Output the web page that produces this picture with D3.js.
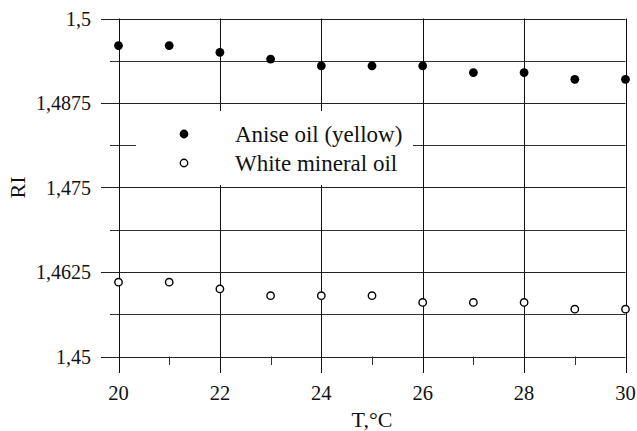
<html>
  <head>
    <meta charset="utf-8" />
    <script src="https://cdnjs.cloudflare.com/ajax/libs/d3/7.6.1/d3.min.js"></script>
    <style>
      body { margin: 0; background: #fff; }
    </style>
  </head>
  <body>
    <svg width="637" height="431"></svg>
  </body>
  <script>
    const temps = [20, 21, 22, 23, 24, 25, 26, 27, 28, 29, 30];
    const aniseOil = [1.496, 1.496, 1.495, 1.494, 1.493, 1.493, 1.493, 1.492, 1.492, 1.491, 1.491];
    const mineralOil = [1.461, 1.461, 1.460, 1.459, 1.459, 1.459, 1.458, 1.458, 1.458, 1.457, 1.457];
    const xTicks = [20, 22, 24, 26, 28, 30];
    const xMinor = [21, 23, 25, 27, 29];
    const yTicks = [1.45, 1.4625, 1.475, 1.4875, 1.5];
    const yTickLabels = ["1,45", "1,4625", "1,475", "1,4875", "1,5"];
    const yMinor = [1.45625, 1.46875, 1.48125, 1.49375];

    const svg = d3.select("svg")
      .attr("font-family", "'Liberation Serif', 'Times New Roman', serif");
    const xScale = d3.scaleLinear().domain([20, 30]).range([118.5, 625.5]);
    const yScale = d3.scaleLinear().domain([1.45, 1.5]).range([356.5, 18.5]);

    function gridLine(sel, color) {
      return sel.append("line").attr("stroke", color).attr("stroke-width", 1);
    }

    // horizontal lines
    yTicks.forEach(d => gridLine(svg, "#222")
      .attr("x1", 101).attr("x2", xScale(30))
      .attr("y1", Math.round(yScale(d)) + 0.5).attr("y2", Math.round(yScale(d)) + 0.5));
    yMinor.forEach(d => gridLine(svg, "#333")
      .attr("x1", 110).attr("x2", xScale(30))
      .attr("y1", Math.round(yScale(d)) + 0.5).attr("y2", Math.round(yScale(d)) + 0.5));

    // vertical lines
    xTicks.forEach(d => gridLine(svg, "#111")
      .attr("x1", Math.round(xScale(d)) + 0.5).attr("x2", Math.round(xScale(d)) + 0.5)
      .attr("y1", yScale(1.5)).attr("y2", 373));
    xMinor.forEach(d => gridLine(svg, "#333")
      .attr("x1", Math.round(xScale(d)) + 0.5).attr("x2", Math.round(xScale(d)) + 0.5)
      .attr("y1", yScale(1.45)).attr("y2", 365));

    // tick labels
    svg.selectAll("text.ylab").data(yTicks).enter().append("text")
      .attr("x", 91).attr("y", d => yScale(d) + 7)
      .attr("font-size", 20)
      .attr("text-anchor", "end").attr("fill", "#111")
      .text((d, i) => yTickLabels[i]);
    svg.selectAll("text.xlab").data(xTicks).enter().append("text")
      .attr("x", d => xScale(d)).attr("y", 400)
      .attr("font-size", 20.5)
      .attr("text-anchor", "middle").attr("fill", "#111")
      .text(d => d);

    svg.append("text").attr("x", (xScale(20) + xScale(30)) / 2).attr("y", 427)
      .attr("font-size", 22)
      .attr("text-anchor", "middle").attr("fill", "#111").text("T,°C");
    svg.append("text")
      .attr("transform", `translate(25,${(yScale(1.45) + yScale(1.5)) / 2}) rotate(-90)`)
      .attr("font-size", 22)
      .attr("text-anchor", "middle").attr("fill", "#111").text("RI");

    // legend
    const lg = svg.append("g").attr("font-size", 23);
    lg.append("rect").attr("x", 136).attr("y", 111).attr("width", 277).attr("height", 74).attr("fill", "#fff");
    lg.append("circle").attr("cx", 184).attr("cy", 134).attr("r", 4.4).attr("fill", "#000");
    lg.append("circle").attr("cx", 184).attr("cy", 163).attr("r", 3.7)
      .attr("fill", "#fff").attr("stroke", "#000").attr("stroke-width", 1.4);
    lg.append("text").attr("x", 235).attr("y", 142).attr("fill", "#111").text("Anise oil (yellow)");
    lg.append("text").attr("x", 235).attr("y", 171).attr("fill", "#111").text("White mineral oil");

    // points
    svg.selectAll("circle.anise").data(aniseOil).enter().append("circle")
      .attr("cx", (d, i) => xScale(temps[i])).attr("cy", d => yScale(d))
      .attr("r", 4.4).attr("fill", "#000");
    svg.selectAll("circle.mineral").data(mineralOil).enter().append("circle")
      .attr("cx", (d, i) => xScale(temps[i])).attr("cy", d => yScale(d))
      .attr("r", 3.7).attr("fill", "#fff").attr("stroke", "#000").attr("stroke-width", 1.4);
  </script>
</html>
